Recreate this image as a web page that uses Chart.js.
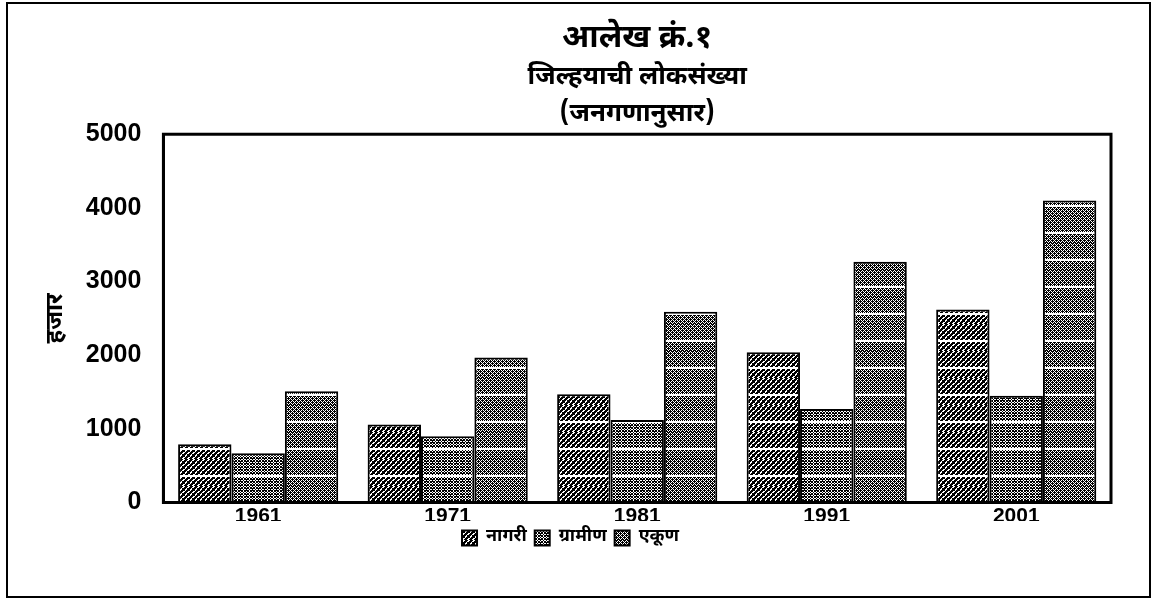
<!DOCTYPE html>
<html>
<head>
<meta charset="utf-8">
<script src="https://cdn.jsdelivr.net/npm/chart.js@4.4.0/dist/chart.umd.min.js"></script>
<style>
  html, body { margin: 0; padding: 0; background: #fff; }
  #wrap { position: relative; width: 1155px; height: 605px; background: #fff; }
  #frame { position: absolute; left: 6px; top: 2px; width: 1141px; height: 592px;
           border: 2px solid #000; pointer-events: none; }
</style>
</head>
<body>
<div id="wrap">
  <canvas id="bar-chart"></canvas>
  <div id="frame"></div>
</div>
<script>
// census years
const years = ['1961', '1971', '1981', '1991', '2001'];
// population in thousands
const nagari = [790, 1060, 1470, 2040, 2620];
const gramin = [670, 900, 1120, 1270, 1450];
const ekun = [1510, 1970, 2590, 3270, 4100];
const seriesNames = ['नागरी', 'ग्रामीण', 'एकूण'];
const yMin = 0, yMax = 5000, yStep = 1000;

const devFont = '"Noto Sans Devanagari", "Lohit Devanagari", "FreeSans", "Noto Sans", sans-serif';
const numFont = '"Liberation Sans", Arial, sans-serif';

function mod(a, n){ return ((a % n) + n) % n; }

// black & white hatch tiles like the printed chart; the white rows
// every 27px imitate the scan banding that runs through all bars
function makePattern(kind){
    const w = kind === 'diag' ? 10 : 12, h = 27;
    const c = document.createElement('canvas');
    c.width = w; c.height = h;
    const g = c.getContext('2d');
    g.fillStyle = '#fff';
    g.fillRect(0, 0, w, h);
    g.fillStyle = '#000';
    for(let y = 0; y < h; y++){
        if(y === 16 || y === 17) continue;
        for(let x = 0; x < w; x++){
            let on = false;
            if(kind === 'diag'){
                on = mod(x + y, 5) < 3 || mod(x - y, 5) === 0;
            } else if(kind === 'cross'){
                on = mod(x + y, 3) === 0 || mod(x - y, 3) === 0 || (mod(x, 6) === 0 && mod(y, 2) === 0);
            } else {
                // dark ground with a thin white mesh
                on = mod(x + y, 4) !== 2 && mod(x - y, 4) !== 2;
            }
            if(on) g.fillRect(x, y, 1, 1);
        }
    }
    return g.createPattern(c, 'repeat');
}

const frameBox = {
    id: 'frameBox',
    afterDraw(chart){
        const a = chart.chartArea;
        const ctx = chart.ctx;
        ctx.save();
        ctx.strokeStyle = '#000';
        ctx.lineWidth = 3;
        ctx.strokeRect(a.left, a.top, a.right - a.left, a.bottom - a.top);
        ctx.restore();
    }
};

var ctx = document.getElementById('bar-chart').getContext('2d');
var myChart = new Chart(ctx, {
    type: 'bar',
    data: {
        labels: years,
        datasets: [{
            label: seriesNames[0],
            backgroundColor: makePattern('diag'),
            borderColor: '#000',
            borderWidth: 2,
            data: nagari
        }, {
            label: seriesNames[1],
            backgroundColor: makePattern('cross'),
            borderColor: '#000',
            borderWidth: 2,
            data: gramin
        }, {
            label: seriesNames[2],
            backgroundColor: makePattern('mesh'),
            borderColor: '#000',
            borderWidth: 2,
            data: ekun
        }]
    },
    plugins: [frameBox],
    options: {
        responsive: true,
        maintainAspectRatio: false,
        animation: false,
        layout: { padding: { left: 30, right: 44, top: 12, bottom: 48 } },
        datasets: {
            bar: { categoryPercentage: 0.845, barPercentage: 1.0 }
        },
        scales: {
            x: {
                grid: { display: false },
                border: { display: true, color: '#000', width: 3 },
                ticks: {
                    color: '#000',
                    padding: 0,
                    font: { family: numFont, size: 21, weight: 'bold', lineHeight: 0.5 }
                }
            },
            y: {
                min: yMin,
                max: yMax,
                grid: { display: false },
                border: { display: true, color: '#000', width: 3 },
                ticks: {
                    stepSize: yStep,
                    color: '#000',
                    padding: 14,
                    font: { family: numFont, size: 25, weight: 'bold' },
                    callback: function(value){ return String(value); }
                },
                title: {
                    display: true,
                    text: 'हजार',
                    color: '#000',
                    padding: { top: 13, bottom: 0 },
                    font: { family: devFont, size: 24, weight: 'bold' }
                }
            }
        },
        plugins: {
            title: {
                display: true,
                fullSize: false,
                text: 'आलेख क्रं.१',
                color: '#000',
                padding: { top: 10, bottom: 0 },
                font: { family: devFont, size: 32, weight: 'bold' }
            },
            subtitle: {
                display: true,
                fullSize: false,
                text: ['जिल्हयाची लोकसंख्या', '(जनगणानुसार)'],
                color: '#000',
                padding: { top: 0, bottom: 0 },
                font: { family: devFont, size: 26, weight: 'bold', lineHeight: 1.42 }
            },
            legend: {
                position: 'bottom',
                labels: {
                    color: '#000',
                    boxWidth: 15,
                    boxHeight: 15,
                    padding: 8,
                    font: { family: devFont, size: 18, weight: 'bold', lineHeight: 1.0 }
                }
            },
            tooltip: { enabled: false }
        }
    }
});
</script>
</body>
</html>
